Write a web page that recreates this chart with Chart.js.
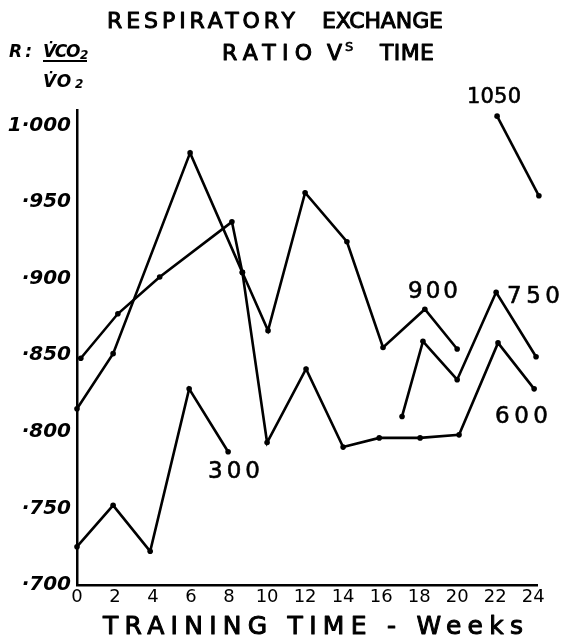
<!DOCTYPE html>
<html>
<head>
<meta charset="utf-8">
<script src="https://cdn.jsdelivr.net/npm/chart.js@4.4.1/dist/chart.umd.min.js"></script>
<style>
  html, body { margin: 0; padding: 0; background: #fff; }
  #wrap { width: 563px; height: 639px; position: relative; }
</style>
</head>
<body>
<div id="wrap"><canvas id="chart"></canvas></div>
<script>
// Respiratory exchange ratio vs training time, one line per work load
const weeks300 = [0, 1.9, 3.85, 5.9, 7.95];
const r300 = [0.725, 0.752, 0.722, 0.828, 0.787];

const weeks600 = [0, 1.9, 5.95, 8.7, 10, 12.05, 14, 15.9, 18.05, 20.1, 22.15, 24.05];
const r600 = [0.815, 0.851, 0.982, 0.904, 0.793, 0.841, 0.79, 0.796, 0.796, 0.798, 0.858, 0.828];

const weeks900 = [0.2, 2.15, 4.35, 8.15, 8.7, 10.05, 12, 14.2, 16.1, 18.3, 20];
const r900 = [0.848, 0.877, 0.901, 0.937, 0.904, 0.866, 0.956, 0.924, 0.855, 0.88, 0.854];

const weeks750 = [17.1, 18.2, 20, 22.05, 24.15];
const r750 = [0.81, 0.859, 0.834, 0.891, 0.849];

const weeks1050 = [22.1, 24.3];
const r1050 = [1.006, 0.954];

const xTickValues = [0, 2, 4, 6, 8, 10, 12, 14, 16, 18, 20, 22, 24];
const yTickValues = [0.7, 0.75, 0.8, 0.85, 0.9, 0.95, 1.0];
const yTickLabels = ["·700", "·750", "·800", "·850", "·900", "·950", "1·000"];

const toPoints = (xs, ys) => xs.map((x, i) => ({ x: x, y: ys[i] }));

const lineStyle = {
  borderColor: "#000",
  backgroundColor: "#000",
  borderWidth: 2.6,
  pointRadius: 2.8,
  pointBackgroundColor: "#000",
  pointBorderWidth: 0,
  tension: 0,
  clip: false,
};

// draw text so it spans x0..x1 (hand lettering is wide), a thin stroke thickens it
function fitText(ctx, text, x0, x1, baseline, font, pen) {
  ctx.font = font;
  ctx.letterSpacing = "0px";
  const w = ctx.measureText(text).width;
  const n = [...text].length;
  const sp = n > 1 ? (x1 - x0 - w) / (n - 1) : 0;
  ctx.letterSpacing = sp + "px";
  ctx.fillText(text, x0, baseline);
  if (pen) {
    ctx.lineWidth = pen;
    ctx.strokeText(text, x0, baseline);
  }
  ctx.letterSpacing = "0px";
}

const whiteBg = {
  id: "whiteBg",
  beforeDraw(chart) {
    const ctx = chart.ctx;
    ctx.save();
    ctx.fillStyle = "#fff";
    ctx.fillRect(0, 0, chart.width, chart.height);
    ctx.restore();
  },
};

const handLabels = {
  id: "handLabels",
  afterDraw(chart) {
    const ctx = chart.ctx;
    ctx.save();
    ctx.fillStyle = "#000";
    ctx.strokeStyle = "#000";
    ctx.lineJoin = "round";
    ctx.textAlign = "left";
    ctx.textBaseline = "alphabetic";

    const cap = "22px 'DejaVu Sans'";
    // title
    fitText(ctx, "RESPIRATORY", 107, 295, 28, cap, 1);
    fitText(ctx, "EXCHANGE", 322, 443, 28, cap, 1);
    fitText(ctx, "RATIO", 222, 312, 60, cap, 1);
    fitText(ctx, "V", 327, 327, 60, cap, 1);
    fitText(ctx, "S", 345, 345, 51, "13px 'DejaVu Sans'", 0.6);
    fitText(ctx, "TIME", 380, 434, 60, cap, 1);

    // y axis label R = VCO2 / VO2
    const it = "italic bold 17px 'DejaVu Sans'";
    const sub = "italic bold 12px 'DejaVu Sans'";
    fitText(ctx, "R:", 9, 32, 57, it);
    fitText(ctx, "V\u0307CO", 43, 79, 57, it);
    fitText(ctx, "2", 80, 80, 59, sub);
    ctx.lineWidth = 2;
    ctx.beginPath();
    ctx.moveTo(43, 61);
    ctx.lineTo(87, 61);
    ctx.stroke();
    fitText(ctx, "V\u0307O", 43, 72, 87, it);
    fitText(ctx, "2", 75, 75, 88, sub);

    // x axis title
    fitText(ctx, "TRAINING TIME - Weeks", 103, 523, 634, "25px 'DejaVu Sans'", 1);

    // work load labels
    const num = "23px 'DejaVu Sans'";
    fitText(ctx, "300", 208, 260, 478, num, 0.6);
    fitText(ctx, "600", 495, 548, 423, num, 0.6);
    fitText(ctx, "900", 408, 458, 298, num, 0.6);
    fitText(ctx, "750", 507, 560, 303, num, 0.6);
    fitText(ctx, "1050", 467, 521, 103, "21px 'DejaVu Sans'", 0.6);
    ctx.restore();
  },
};

new Chart(document.getElementById("chart"), {
  type: "line",
  data: {
    datasets: [
      { label: "300", data: toPoints(weeks300, r300), ...lineStyle },
      { label: "600", data: toPoints(weeks600, r600), ...lineStyle },
      { label: "900", data: toPoints(weeks900, r900), ...lineStyle },
      { label: "750", data: toPoints(weeks750, r750), ...lineStyle },
      { label: "1050", data: toPoints(weeks1050, r1050), ...lineStyle },
    ],
  },
  options: {
    responsive: true,
    maintainAspectRatio: false,
    animation: false,
    layout: { padding: { top: 110, right: 26, bottom: 0, left: 0 } },
    plugins: {
      legend: { display: false },
      tooltip: { enabled: false },
      title: { display: false },
    },
    scales: {
      x: {
        type: "linear",
        min: 0,
        max: 24.2,
        afterBuildTicks: (scale) => {
          scale.ticks = xTickValues.map((v) => ({ value: v }));
        },
        afterFit: (scale) => {
          scale.height = 54;
        },
        grid: { display: false, drawTicks: false, tickLength: 0 },
        border: { display: true, color: "#000", width: 2.5 },
        ticks: {
          color: "#000",
          font: { family: "DejaVu Sans", size: 18 },
          padding: 2,
          maxRotation: 0,
          autoSkip: false,
        },
      },
      y: {
        type: "linear",
        min: 0.7,
        max: 1.01,
        afterBuildTicks: (scale) => {
          scale.ticks = yTickValues.map((v) => ({ value: v }));
        },
        afterFit: (scale) => {
          scale.width = 77;
        },
        grid: { display: false, drawTicks: false, tickLength: 0 },
        border: { display: true, color: "#000", width: 2.5 },
        ticks: {
          color: "#000",
          font: { family: "DejaVu Sans", size: 20, style: "italic", weight: "bold" },
          padding: 6,
          autoSkip: false,
          callback: (value) => {
            const i = yTickValues.findIndex((v) => Math.abs(v - value) < 1e-6);
            return i >= 0 ? yTickLabels[i] : "";
          },
        },
      },
    },
  },
  plugins: [whiteBg, handLabels],
});
</script>
</body>
</html>
